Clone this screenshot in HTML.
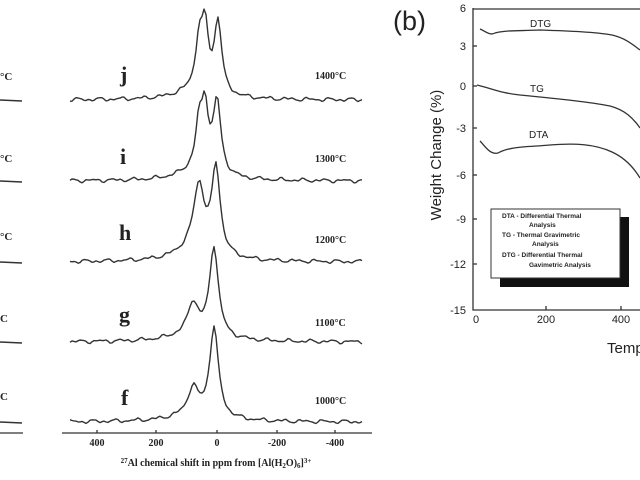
<!DOCTYPE html>
<html><head><meta charset="utf-8"><style>
body{margin:0;background:#fff;width:640px;height:480px;overflow:hidden}
svg{position:absolute;left:0;top:0}
</style></head><body>
<svg id="s" width="640" height="480" viewBox="0 0 640 480" xmlns="http://www.w3.org/2000/svg">
<g font-family="Liberation Serif, serif" font-weight="bold" fill="#222">
<text x="120" y="82" font-size="22">j</text>
<text x="120" y="164" font-size="22">i</text>
<text x="119" y="240" font-size="22">h</text>
<text x="119" y="322" font-size="22">g</text>
<text x="121" y="405" font-size="22">f</text>
<text x="315" y="79" font-size="10">1400°C</text>
<text x="315" y="162" font-size="10">1300°C</text>
<text x="315" y="243" font-size="10">1200°C</text>
<text x="315" y="326" font-size="10">1100°C</text>
<text x="315" y="404" font-size="10">1000°C</text>
<text x="0" y="80" font-size="11">°C</text>
<text x="0" y="162" font-size="11">°C</text>
<text x="0" y="240" font-size="11">°C</text>
<text x="0" y="322" font-size="11">C</text>
<text x="0" y="400" font-size="11">C</text>
<text x="97" y="446" font-size="10" text-anchor="middle">400</text>
<text x="156" y="446" font-size="10" text-anchor="middle">200</text>
<text x="217" y="446" font-size="10" text-anchor="middle">0</text>
<text x="277" y="446" font-size="10" text-anchor="middle">-200</text>
<text x="335" y="446" font-size="10" text-anchor="middle">-400</text>
<text x="216" y="466" font-size="10" text-anchor="middle"><tspan font-size="7" dy="-3">27</tspan><tspan dy="3">Al chemical shift in ppm from [Al(H</tspan><tspan font-size="7" dy="2">2</tspan><tspan dy="-2">O)</tspan><tspan font-size="7" dy="2">6</tspan><tspan dy="-2">]</tspan><tspan font-size="7" dy="-3">3+</tspan></text>
</g>
<g stroke="#333" stroke-width="1.3" fill="none">
<line x1="0" y1="433" x2="23" y2="433"/>
<line x1="62" y1="433" x2="372" y2="433"/>
<line x1="97" y1="433" x2="97" y2="430"/><line x1="156" y1="433" x2="156" y2="430"/><line x1="217" y1="433" x2="217" y2="430"/><line x1="277" y1="433" x2="277" y2="430"/><line x1="335" y1="433" x2="335" y2="430"/>
</g>
<g id="sp" stroke="#333" stroke-width="1.4" fill="none" stroke-linejoin="round"></g>
<text x="393" y="30" font-family="Liberation Sans, sans-serif" font-size="27" fill="#222">(b)</text>
<g stroke="#333" stroke-width="1.3" fill="none">
<polyline points="473,8 473,310 640,310"/>
<line x1="473" y1="9" x2="640" y2="9"/>
<line x1="546" y1="310" x2="546" y2="306"/><line x1="621" y1="310" x2="621" y2="306"/>
<line x1="473" y1="46" x2="477" y2="46"/><line x1="473" y1="86" x2="477" y2="86"/><line x1="473" y1="128" x2="477" y2="128"/><line x1="473" y1="175" x2="477" y2="175"/><line x1="473" y1="219" x2="477" y2="219"/><line x1="473" y1="264" x2="477" y2="264"/>
<path d="M480,29 C485,31 490,36 495,33 C505,30 520,31 540,30 C570,31 595,32 612,35 C625,38 632,44 640,50"/>
<path d="M477,85 C490,88 500,93 520,95 C560,99 590,102 610,106 C625,110 633,118 640,128"/>
<path d="M480,141 C485,146 490,155 498,153 C510,146 530,147 550,145 C575,143 595,144 612,152 C625,158 634,168 640,178"/>
</g>
<g font-family="Liberation Sans, sans-serif" font-size="11" fill="#222" text-anchor="end">
<text x="466" y="12">6</text><text x="466" y="50">3</text><text x="466" y="90">0</text><text x="466" y="132">-3</text><text x="466" y="179">-6</text><text x="466" y="223">-9</text><text x="466" y="268">-12</text><text x="466" y="314">-15</text>
</g>
<g font-family="Liberation Sans, sans-serif" font-size="11" fill="#222">
<text x="476" y="323" text-anchor="middle">0</text><text x="546" y="323" text-anchor="middle">200</text><text x="621" y="323" text-anchor="middle">400</text>
<text x="530" y="27" font-size="10">DTG</text><text x="530" y="92" font-size="10">TG</text><text x="529" y="138" font-size="10">DTA</text>
<text x="607" y="353" font-size="15">Temp</text>
<text transform="translate(441,155) rotate(-90)" font-size="15" text-anchor="middle">Weight Change (%)</text>
</g>
<rect x="500" y="217" width="129" height="70" fill="#111"/>
<rect x="491" y="209" width="129" height="69" fill="#fff" stroke="#333" stroke-width="1"/>
<g font-family="Liberation Sans, sans-serif" font-size="6.5" font-weight="bold" fill="#222">
<text x="502" y="218">DTA - Differential Thermal</text><text x="529" y="227">Analysis</text>
<text x="502" y="237">TG -  Thermal Gravimetric</text><text x="532" y="246">Analysis</text>
<text x="502" y="257">DTG - Differential Thermal</text><text x="529" y="267">Gavimetric Analysis</text>
</g>
</svg>
<script>
function L(x,c,w){return 1/(1+((x-c)/w)*((x-c)/w));}
var specs=[
 {b:100,p:[[205,60,4],[199,45,4],[218,72,4.3],[198,10,22]]},
 {b:181,p:[[205,60,4],[199,42,4],[217,72,4.6],[198,10,22]]},
 {b:262,p:[[199,64,6.5],[216,86,5],[195,12,22]]},
 {b:342,p:[[193,30,6],[214,90,5.2],[195,8,26]]},
 {b:422,p:[[193,26,6],[214,90,5.2],[195,7,26]]}
];
var g=document.getElementById('sp');
specs.forEach(function(sp,k){
 var d='';for(var x=70;x<=362;x+=2){var y=sp.b;sp.p.forEach(function(p){y-=p[1]*L(x,p[0],p[2]);});
 y+=1.2*Math.sin(x*0.3+k*2)+0.8*Math.sin(x*0.55+k)+0.5*Math.sin(x*0.9+k*3);
 d+=(x==70?'M':'L')+x+','+y.toFixed(1);}
 var e=document.createElementNS('http://www.w3.org/2000/svg','path');e.setAttribute('d',d);g.appendChild(e);
 var e2=document.createElementNS('http://www.w3.org/2000/svg','path');e2.setAttribute('d','M0,'+sp.b+' L22,'+(sp.b+1));g.appendChild(e2);
});
</script>
</body></html>
